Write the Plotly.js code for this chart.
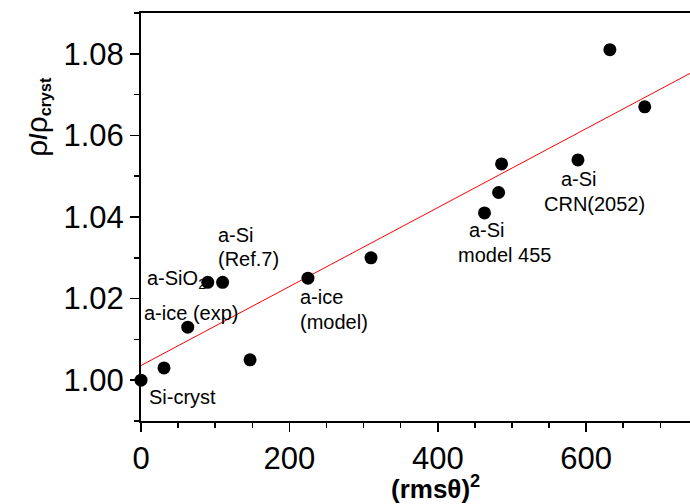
<!DOCTYPE html>
<html><head><meta charset="utf-8">
<script src="https://cdn.plot.ly/plotly-3.0.1.min.js"></script>
<style>html,body{margin:0;padding:0;background:#fff}#chart{width:690px;height:504px}</style>
</head><body><div id="chart"></div>
<script>
// data
const rmsSq = [0, 31, 63, 90, 110, 147, 225, 310, 463, 482, 486, 589, 632, 679];
const rhoRatio = [1.000, 1.003, 1.013, 1.024, 1.024, 1.005, 1.025, 1.030, 1.041, 1.046, 1.053, 1.054, 1.081, 1.067];
const fitX = [0, 740];
const fitY = [1.0036, 1.0752];
const labelText = ["Si-cryst", "a-ice (exp)", "a-SiO<sub>2</sub>", "a-Si", "(Ref.7)", "a-ice", "(model)", "a-Si", "model 455", "a-Si", "CRN(2052)"];
const labelX = [8, 1.5, 5, 101, 101, 211, 211, 440, 425, 564, 541];
const labelY = [0.9959, 1.0165, 1.0246, 1.0355, 1.0297, 1.0205, 1.0143, 1.0368, 1.0307, 1.0494, 1.0433];

const traces = [
  {x: fitX, y: fitY, mode: 'lines', line: {color: '#ff0000', width: 1}, hoverinfo: 'skip'},
  {x: rmsSq, y: rhoRatio, mode: 'markers', marker: {color: '#000', size: 13}, cliponaxis: false}
];

const ann = labelText.map((t, i) => ({
  x: labelX[i], y: labelY[i], xref: 'x', yref: 'y', text: t, showarrow: false,
  xanchor: 'left', yanchor: 'middle', font: {family: 'Arial, Liberation Sans', size: 20, color: '#000'}
}));
ann.push({xref: 'paper', yref: 'paper', x: 0.537, y: -0.163, text: '<b>(rmsθ)<sup>2</sup></b>', showarrow: false,
  xanchor: 'center', yanchor: 'middle', font: {family: 'Arial, Liberation Sans', size: 26, color: '#000'}});
ann.push({xref: 'paper', yref: 'paper', x: -0.19, y: 0.745,
  text: '<span style="font-size:30px">ρ</span><b>/</b><span style="font-size:30px">ρ</span><b><sub>cryst</sub></b>',
  showarrow: false, textangle: -90,
  xanchor: 'center', yanchor: 'middle', font: {family: 'Arial, Liberation Sans', size: 23, color: '#000'}});

const layout = {
  width: 690, height: 504,
  margin: {l: 141, r: 0, t: 13, b: 83},
  paper_bgcolor: '#fff', plot_bgcolor: '#fff',
  showlegend: false,
  font: {family: 'Arial, Liberation Sans', color: '#000'},
  xaxis: {range: [0, 740], showgrid: false, zeroline: false, showline: true, linecolor: '#000', linewidth: 2,
    mirror: true, ticks: 'outside', ticklen: 9, tickwidth: 1.5, tickcolor: '#000', dtick: 200, tick0: 0,
    tickfont: {size: 31, family: 'Arial, Liberation Sans'},
    minor: {dtick: 50, ticks: 'outside', ticklen: 5, tickwidth: 1.5, tickcolor: '#000', showgrid: false}},
  yaxis: {range: [0.99, 1.09], showgrid: false, zeroline: false, showline: true, linecolor: '#000', linewidth: 2,
    ticks: 'outside', ticklen: 9, tickwidth: 1.5, tickcolor: '#000', dtick: 0.02, tick0: 1.0, tickformat: '.2f',
    tickfont: {size: 31, family: 'Arial, Liberation Sans'},
    minor: {dtick: 0.01, ticks: 'outside', ticklen: 5, tickwidth: 1.5, tickcolor: '#000', showgrid: false}},
  annotations: ann
};
Plotly.newPlot('chart', traces, layout, {displayModeBar: false, staticPlot: true});
</script></body></html>
